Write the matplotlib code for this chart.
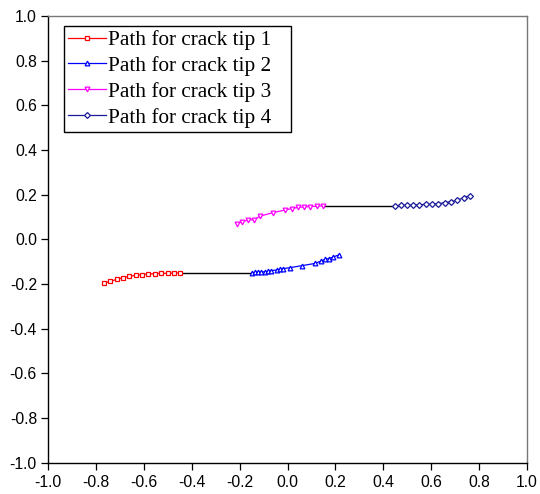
import matplotlib
matplotlib.use("Agg")
import matplotlib.pyplot as plt
from matplotlib.patches import Rectangle
from matplotlib.transforms import IdentityTransform

# Crack growth paths (x, y) for the four crack tips
tip1_x = [-0.766, -0.740, -0.712, -0.686, -0.660, -0.634, -0.607, -0.581, -0.555, -0.528, -0.500, -0.474, -0.447]
tip1_y = [-0.196, -0.188, -0.179, -0.171, -0.166, -0.161, -0.158, -0.155, -0.154, -0.152, -0.152, -0.151, -0.150]

tip2_x = [-0.150, -0.135, -0.123, -0.109, -0.095, -0.081, -0.067, -0.045, -0.031, -0.017, 0.009, 0.059, 0.114, 0.138, 0.156, 0.173, 0.189, 0.213]
tip2_y = [-0.150, -0.148, -0.147, -0.146, -0.145, -0.143, -0.140, -0.137, -0.135, -0.131, -0.127, -0.118, -0.108, -0.098, -0.090, -0.086, -0.080, -0.070]

tip3_x = [-0.213, -0.190, -0.164, -0.139, -0.114, -0.060, -0.010, 0.017, 0.044, 0.069, 0.094, 0.121, 0.148]
tip3_y = [0.069, 0.078, 0.087, 0.088, 0.104, 0.120, 0.131, 0.138, 0.143, 0.145, 0.147, 0.148, 0.150]

tip4_x = [0.447, 0.472, 0.498, 0.525, 0.551, 0.577, 0.604, 0.630, 0.656, 0.683, 0.709, 0.735, 0.763]
tip4_y = [0.150, 0.152, 0.153, 0.153, 0.155, 0.157, 0.157, 0.160, 0.164, 0.169, 0.175, 0.187, 0.196]

# Initial cracks
crack1_x = [-0.447, -0.150]
crack1_y = [-0.150, -0.150]
crack2_x = [0.148, 0.447]
crack2_y = [0.150, 0.150]

labels = ["Path for crack tip 1", "Path for crack tip 2",
          "Path for crack tip 3", "Path for crack tip 4"]
ticks = [-1.0, -0.8, -0.6, -0.4, -0.2, 0.0, 0.2, 0.4, 0.6, 0.8, 1.0]

fig = plt.figure(figsize=(5.4, 4.94), dpi=100)
ax = fig.add_axes([0.0889, 0.0634, 0.8871, 0.9042])

ax.plot(crack1_x, crack1_y, color="black", lw=1.0)
ax.plot(crack2_x, crack2_y, color="black", lw=1.0)

series = [
    (tip1_x, tip1_y, "#ff0000", "s"),
    (tip2_x, tip2_y, "#0000ff", "^"),
    (tip3_x, tip3_y, "#ff00ff", "v"),
    (tip4_x, tip4_y, "#1a1a99", "D"),
]
for (xs, ys, c, m), lab in zip(series, labels):
    ax.plot(xs, ys, color=c, lw=0.9, marker=m, markersize=3.4 if m != "D" else 3.0,
            markerfacecolor="white", markeredgecolor=c, markeredgewidth=0.9, label=lab)

ax.set_xlim(-1.0, 1.0)
ax.set_ylim(-1.0, 1.0)
ax.set_xticks(ticks)
ax.set_yticks(ticks)
ax.set_xticklabels([f"{t:.1f}" for t in ticks])
ax.set_yticklabels([f"{t:.1f}" for t in ticks])

for lab in ax.get_xticklabels() + ax.get_yticklabels():
    lab.set_fontfamily("Liberation Sans")
    lab.set_fontsize(11.3)
ax.tick_params(direction="out", length=5, width=0.9, color="black", top=False, right=False)
ax.tick_params(axis="x", pad=4)
ax.tick_params(axis="y", pad=3)

ax.spines["left"].set_color("black")
ax.spines["bottom"].set_color("black")
ax.spines["top"].set_color("#777777")
ax.spines["right"].set_color("#777777")
for s in ax.spines.values():
    s.set_linewidth(1.0)

leg = ax.legend(loc="upper left", bbox_to_anchor=(0.033, 0.978),
                prop={"family": "Liberation Serif", "size": 15.3},
                frameon=False,
                handlelength=1.8, handletextpad=0.1, labelspacing=0.28,
                borderpad=0.2, borderaxespad=0.0)
leg.set_zorder(5)

# Legend box, with extra room to the right of the labels
fig.canvas.draw()
bb = leg.get_window_extent()
box = Rectangle((bb.x0, bb.y0), bb.width + 15, bb.height,
                transform=IdentityTransform(), facecolor="white",
                edgecolor="black", linewidth=1.0, zorder=4)
ax.add_artist(box)

fig.savefig("out.png", dpi=100)
